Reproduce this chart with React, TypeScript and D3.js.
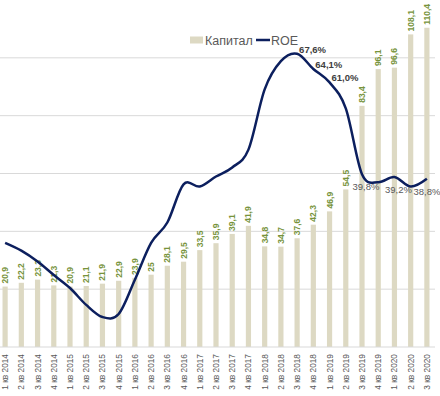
import React, { useEffect, useRef } from 'react';
import * as d3 from 'd3';

const quarters = [
  '1 кв 2014', '2 кв 2014', '3 кв 2014', '4 кв 2014',
  '1 кв 2015', '2 кв 2015', '3 кв 2015', '4 кв 2015',
  '1 кв 2016', '2 кв 2016', '3 кв 2016', '4 кв 2016',
  '1 кв 2017', '2 кв 2017', '3 кв 2017', '4 кв 2017',
  '1 кв 2018', '2 кв 2018', '3 кв 2018', '4 кв 2018',
  '1 кв 2019', '2 кв 2019', '3 кв 2019', '4 кв 2019',
  '1 кв 2020', '2 кв 2020', '3 кв 2020',
];

// Капитал (bars)
const capital = [
  20.9, 22.2, 23.3, 21.3, 20.9, 21.1, 21.9, 22.9, 23.9, 25,
  28.1, 29.5, 33.5, 35.9, 39.1, 41.9, 34.8, 34.7, 37.6, 42.3,
  46.9, 54.5, 83.4, 96.1, 96.6, 108.1, 110.4,
];

// ROE, % (line)
const roe = [
  24.0, 22.2, 19.7, 16.6, 13.6, 9.7, 6.9, 7.6, 15.5, 24.0,
  28.7, 37.5, 37.0, 39.3, 41.4, 45.5, 59.4, 65.9, 67.6, 64.1,
  61.0, 55.0, 39.8, 38.0, 39.2, 37.0, 38.8,
];

// which ROE points carry a label, and where
const roeLabelsRight = [18, 19, 20];
const roeLabelsBelow = [22, 24, 26];

const capitalTicks = [20, 40, 60, 80, 100];

const W = 440;
const H = 396;
const margin = { top: 0, right: 5, bottom: 49, left: -3 };

export default function App() {
  const ref = useRef<SVGSVGElement>(null);

  useEffect(() => {
    if (!ref.current) return;
    const svg = d3.select(ref.current);
    svg.selectAll('*').remove();

    const x = d3.scaleBand<string>()
      .domain(quarters)
      .range([margin.left, W - margin.right])
      .paddingInner(0.68)
      .paddingOuter(0.34);
    const yBar = d3.scaleLinear().domain([0, 120]).range([H - margin.bottom, margin.top]);
    const yRoe = d3.scaleLinear().domain([0, 80]).range([H - margin.bottom, margin.top]);
    const cx = (i: number) => (x(quarters[i]) as number) + x.bandwidth() / 2;

    const font = '"Liberation Sans", Arial, sans-serif';
    const plotLeft = 0;
    const plotRight = W - margin.right;

    // gridlines
    svg.append('g')
      .selectAll('line')
      .data(capitalTicks)
      .join('line')
      .attr('x1', plotLeft).attr('x2', plotRight)
      .attr('y1', d => yBar(d)).attr('y2', d => yBar(d))
      .attr('stroke', '#d9d9d9').attr('stroke-width', 1);

    // bars
    svg.append('g')
      .selectAll('rect')
      .data(capital)
      .join('rect')
      .attr('x', (d, i) => x(quarters[i]) as number)
      .attr('width', x.bandwidth())
      .attr('y', d => yBar(d))
      .attr('height', d => yBar(0) - yBar(d))
      .attr('fill', '#ddd9c3');

    // baseline
    svg.append('line')
      .attr('x1', plotLeft).attr('x2', plotRight)
      .attr('y1', yBar(0)).attr('y2', yBar(0))
      .attr('stroke', '#d9d9d9').attr('stroke-width', 1);

    // bar value labels
    svg.append('g')
      .selectAll('text')
      .data(capital)
      .join('text')
      .attr('transform', (d, i) => `translate(${cx(i) + 3},${yBar(d) - 3}) rotate(-90)`)
      .attr('font-family', font)
      .attr('font-size', 8.5)
      .attr('font-weight', 'bold')
      .attr('fill', '#77933c')
      .text(d => String(d).replace('.', ','));

    // x labels
    svg.append('g')
      .selectAll('text')
      .data(quarters)
      .join('text')
      .attr('transform', (d, i) => `translate(${cx(i) + 3},${yBar(0) + 7}) rotate(-90)`)
      .attr('text-anchor', 'end')
      .attr('font-family', font)
      .attr('font-size', 8.3)
      .attr('fill', '#595959')
      .text(d => d);

    // ROE line
    const line = d3.line<number>()
      .x((d, i) => cx(i))
      .y(d => yRoe(d))
      .curve(d3.curveCardinal.tension(0));
    svg.append('path')
      .datum(roe)
      .attr('d', line)
      .attr('fill', 'none')
      .attr('stroke', '#0c1f5e')
      .attr('stroke-width', 2.5);

    // ROE labels
    const fmt = (v: number) => v.toFixed(1).replace('.', ',') + '%';
    svg.append('g')
      .selectAll('text')
      .data(roeLabelsRight)
      .join('text')
      .attr('x', i => cx(i) + 2)
      .attr('y', i => yRoe(roe[i]) - 1)
      .attr('font-family', font)
      .attr('font-size', 9.5)
      .attr('font-weight', 'bold')
      .attr('fill', '#404040')
      .text(i => fmt(roe[i]));
    svg.append('g')
      .selectAll('text')
      .data(roeLabelsBelow)
      .join('text')
      .attr('x', i => Math.min(cx(i) + 4, W - 13))
      .attr('y', i => yRoe(roe[i]) + 16)
      .attr('text-anchor', 'middle')
      .attr('font-family', font)
      .attr('font-size', 9.5)
      .attr('fill', '#595959')
      .text(i => fmt(roe[i]));

    // legend
    const lg = svg.append('g').attr('transform', 'translate(190,40)');
    lg.append('rect').attr('x', 0).attr('y', -3.5).attr('width', 13).attr('height', 7).attr('fill', '#ddd9c3');
    lg.append('text').attr('x', 15).attr('y', 4.5)
      .attr('font-family', font).attr('font-size', 12.5).attr('fill', '#595959').text('Капитал');
    lg.append('line').attr('x1', 66).attr('x2', 80).attr('y1', 0).attr('y2', 0)
      .attr('stroke', '#0c1f5e').attr('stroke-width', 2.5);
    lg.append('text').attr('x', 81).attr('y', 4.5)
      .attr('font-family', font).attr('font-size', 12.5).attr('fill', '#595959').text('ROE');
  }, []);

  return (
    <svg
      ref={ref}
      width={W}
      height={H}
      style={{ position: 'absolute', left: 0, top: 0, background: '#fff' }}
    />
  );
}
